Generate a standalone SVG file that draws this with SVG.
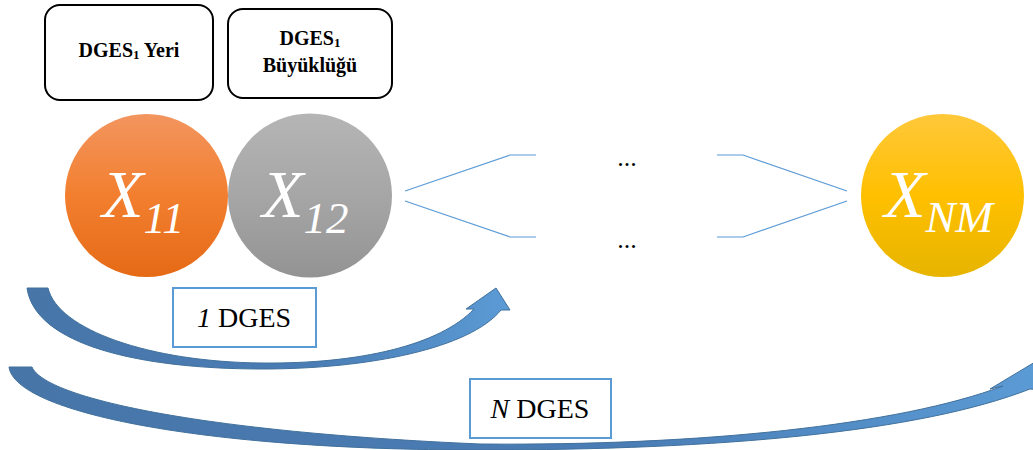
<svg xmlns="http://www.w3.org/2000/svg" width="1033" height="450" viewBox="0 0 1033 450">
<defs>
<linearGradient id="gOrange" x1="0" y1="0" x2="0" y2="1">
<stop offset="0" stop-color="#F3955F"/><stop offset="0.5" stop-color="#F27F2F"/><stop offset="1" stop-color="#E56A16"/>
</linearGradient>
<linearGradient id="gGray" x1="0" y1="0" x2="0" y2="1">
<stop offset="0" stop-color="#B5B5B5"/><stop offset="0.5" stop-color="#A6A6A6"/><stop offset="1" stop-color="#939393"/>
</linearGradient>
<linearGradient id="gYellow" x1="0" y1="0" x2="0" y2="1">
<stop offset="0" stop-color="#FFC83A"/><stop offset="0.5" stop-color="#FFC000"/><stop offset="1" stop-color="#E7B400"/>
</linearGradient>
<linearGradient id="gArrow" x1="0" y1="0" x2="1" y2="0">
<stop offset="0" stop-color="#4775A8"/><stop offset="0.6" stop-color="#4A7DB6"/><stop offset="1" stop-color="#5B9BD5"/>
</linearGradient>
<style>
.rbox{fill:#fff;stroke:#000;stroke-width:2}
.tbox{fill:#fff;stroke:#5B9BD5;stroke-width:2}
.serif{font-family:'Liberation Serif','Times New Roman',serif}
.bold{font-weight:bold;font-size:20px;fill:#000}
.lbl{font-size:28px;fill:#000}
.xl{font-style:italic;font-size:68px;fill:#fff}
.conn{fill:none;stroke:#5B9BD5;stroke-width:1.2}
.arrow{fill:url(#gArrow);stroke:#41719C;stroke-width:1}
.dots{font-size:26px;fill:#000}
</style>
</defs>
<rect width="1033" height="450" fill="#fff"/>

<g id="box-yeri">
<rect class="rbox" x="45" y="5" width="168" height="95" rx="15"/>
<text class="serif bold" x="129" y="57" text-anchor="middle">DGES<tspan font-size="13" dy="2">1</tspan><tspan dy="-2"> Yeri</tspan></text>
</g>
<g id="box-buyukluk">
<rect class="rbox" x="228" y="9" width="164" height="89" rx="15"/>
<text class="serif bold" x="310" y="45" text-anchor="middle">DGES<tspan font-size="13" dy="2">1</tspan></text>
<text class="serif bold" x="310" y="72" text-anchor="middle">Büyüklüğü</text>
</g>

<g id="node-x11">
<circle cx="146.5" cy="195.5" r="81.5" fill="url(#gOrange)"/>
<text class="serif xl" x="102" y="217">X<tspan font-size="44" dy="16">11</tspan></text>
</g>
<g id="node-x12">
<circle cx="310" cy="195.5" r="82" fill="url(#gGray)"/>
<text class="serif xl" x="262" y="217">X<tspan font-size="45" dy="16">12</tspan></text>
</g>
<g id="node-xnm">
<circle cx="942.5" cy="195.5" r="81.5" fill="url(#gYellow)"/>
<text class="serif xl" x="884" y="217">X<tspan font-size="45" dy="15">NM</tspan></text>
</g>

<g id="connectors">
<polyline class="conn" points="405,191 510,155 536,155"/>
<polyline class="conn" points="405,201 510,237 536,237"/>
<polyline class="conn" points="717,155 743,155 847,191"/>
<polyline class="conn" points="717,237 743,237 847,201"/>
<path class="arrow" d="M27,288 L48,288 C58,330 150,362 262,363 C360,364 440,345 474,309 L466,309 L496,288 L510,310 L501,310 C470,348 370,369 262,369 C140,369 35,345 27,288 Z"/>
<path class="arrow" d="M9,367 L32,367 C45,398 200,432 480,444 C700,446 900,425 1003,386 L990,389 L1035,362 L1042,390 L1030,389 C920,432 720,450 480,450 C200,450 15,412 9,367 Z"/>
</g>

<g id="dots">
<text class="serif dots" x="627" y="166" text-anchor="middle">...</text>
<text class="serif dots" x="627" y="248" text-anchor="middle">...</text>
</g>

<g id="label-1dges">
<rect class="tbox" x="173" y="288" width="143" height="59"/>
<text class="serif lbl" x="244" y="327" text-anchor="middle"><tspan font-style="italic">1</tspan> DGES</text>
</g>
<g id="label-ndges">
<rect class="tbox" x="470" y="379" width="141" height="59"/>
<text class="serif lbl" x="540" y="418" text-anchor="middle"><tspan font-style="italic">N</tspan> DGES</text>
</g>
</svg>
